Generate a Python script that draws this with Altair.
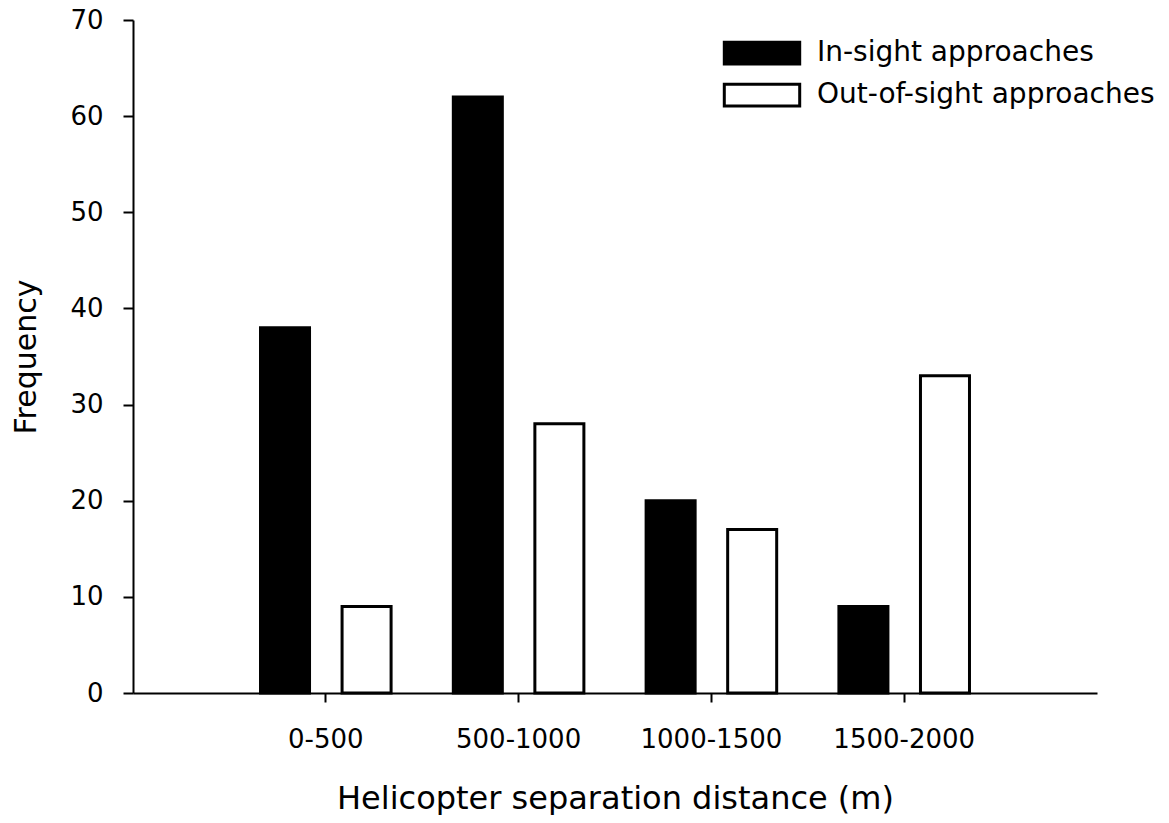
import altair as alt
import pandas as pd

categories = ["0-500", "500-1000", "1000-1500", "1500-2000"]
series = ["In-sight approaches", "Out-of-sight approaches"]
in_sight = [38, 62, 20, 9]
out_of_sight = [9, 28, 17, 33]
y_ticks = [0, 10, 20, 30, 40, 50, 60, 70]

rows = []
for c, a, b in zip(categories, in_sight, out_of_sight):
    rows.append({"distance": c, "approach": series[0], "frequency": a})
    rows.append({"distance": c, "approach": series[1], "frequency": b})
df = pd.DataFrame(rows)

FONT = "DejaVu Sans"
legend_shape = "M-2.6,-0.75L2.6,-0.75L2.6,0.75L-2.6,0.75Z"

chart = alt.Chart(df).mark_bar(stroke="black", strokeWidth=3, strokeJoin="miter").encode(
    x=alt.X(
        "distance:N", sort=categories,
        scale=alt.Scale(paddingInner=0, paddingOuter=0.5),
        axis=alt.Axis(
            title="Helicopter separation distance (m)", labelAngle=0,
            tickSize=9, labelPadding=24, titlePadding=31,
            labelFontSize=26, titleFontSize=32,
        ),
    ),
    xOffset=alt.XOffset(
        "approach:N", sort=series,
        scale=alt.Scale(paddingInner=0.399, paddingOuter=0.3815),
    ),
    y=alt.Y(
        "frequency:Q",
        scale=alt.Scale(domain=[0, 70], nice=False),
        axis=alt.Axis(
            title="Frequency", values=y_ticks, tickSize=10,
            labelPadding=20, titlePadding=28,
            labelFontSize=26, titleFontSize=30,
        ),
    ),
    fill=alt.Fill(
        "approach:N", sort=series,
        scale=alt.Scale(domain=series, range=["black", "white"]),
        legend=alt.Legend(
            title=None, orient="none", legendX=613, legendY=17,
            symbolType=legend_shape, symbolSize=841,
            symbolStrokeColor="black", symbolStrokeWidth=3,
            labelFontSize=28, labelFont=FONT, labelColor="black",
            labelLimit=0, rowPadding=8, labelOffset=39, padding=0,
        ),
    ),
).properties(
    width=964, height=673,
    autosize=alt.AutoSizeParams(type="none"),
    padding={"left": 125, "top": 12, "right": 64, "bottom": 122},
).configure_view(
    stroke=None
).configure_axis(
    grid=False, domainColor="black", domainWidth=2, tickColor="black", tickWidth=2,
    labelColor="black", titleColor="black", labelFont=FONT, titleFont=FONT,
    titleFontWeight="normal",
)

chart.save("out.html", embed_options={"renderer": "svg", "actions": False})
